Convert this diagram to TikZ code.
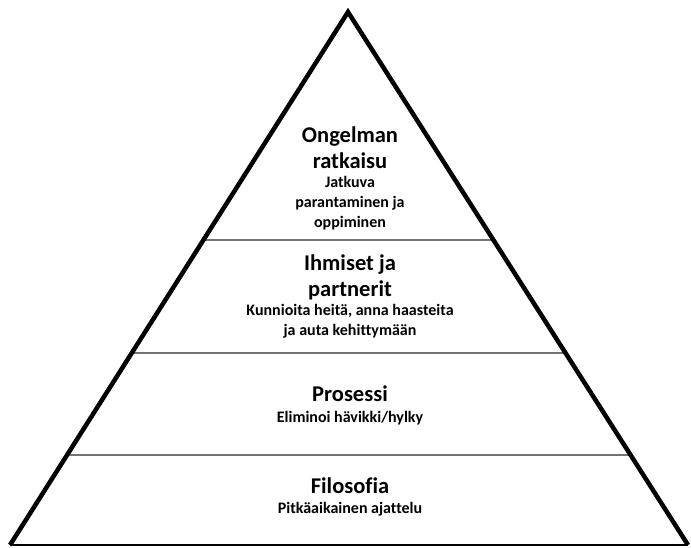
\documentclass[tikz,border=0pt]{standalone}
\usepackage{fontspec}
\setmainfont{Carlito}[Ligatures=NoCommon]
\usetikzlibrary{calc}
\begin{document}
\begin{tikzpicture}[x=1pt,y=-1pt,
  title/.style={font=\fontsize{22.5}{26}\selectfont\bfseries, align=center, inner sep=0pt},
  sub/.style={font=\fontsize{16}{20}\selectfont\bfseries, align=center, inner sep=0pt},
  side/.style={line width=4.5pt, line join=miter},
  base/.style={line width=1.5pt},
  divider/.style={draw=black!55, line width=1.8pt}]
\useasboundingbox (0,0) rectangle (691,548);
% corners of the pyramid
\coordinate (apex) at (348,12);
\coordinate (bl) at (10,545);
\coordinate (br) at (688,545);
% level dividers
\coordinate (d1l) at ($(apex)!0.4278!(bl)$);
\coordinate (d1r) at ($(apex)!0.4278!(br)$);
\coordinate (d2l) at ($(apex)!0.6398!(bl)$);
\coordinate (d2r) at ($(apex)!0.6398!(br)$);
\coordinate (d3l) at ($(apex)!0.8311!(bl)$);
\coordinate (d3r) at ($(apex)!0.8311!(br)$);
\draw[divider] (d1l) -- (d1r);
\draw[divider] (d2l) -- (d2r);
\draw[divider] (d3l) -- (d3r);
% outline
\draw[base] (bl) -- (br);
\draw[side] (bl) -- (apex) -- (br);
% level texts
\node[title] (t1) at (350,148) {Ongelman\\ratkaisu};
\node[sub] (s1) at (350,203.5) {Jatkuva\\parantaminen ja\\oppiminen};
\node[title] (t2) at (350,277) {Ihmiset ja\\partnerit};
\node[sub] (s2) at (350,321) {Kunnioita heitä, anna haasteita\\ja auta kehittymään};
\node[title] (t3) at (350,394) {Prosessi};
\node[sub] (s3) at (350,418) {Eliminoi hävikki/hylky};
\node[title] (t4) at (350,486) {Filosofia};
\node[sub] (s4) at (350,509) {Pitkäaikainen ajattelu};
\end{tikzpicture}
\end{document}
